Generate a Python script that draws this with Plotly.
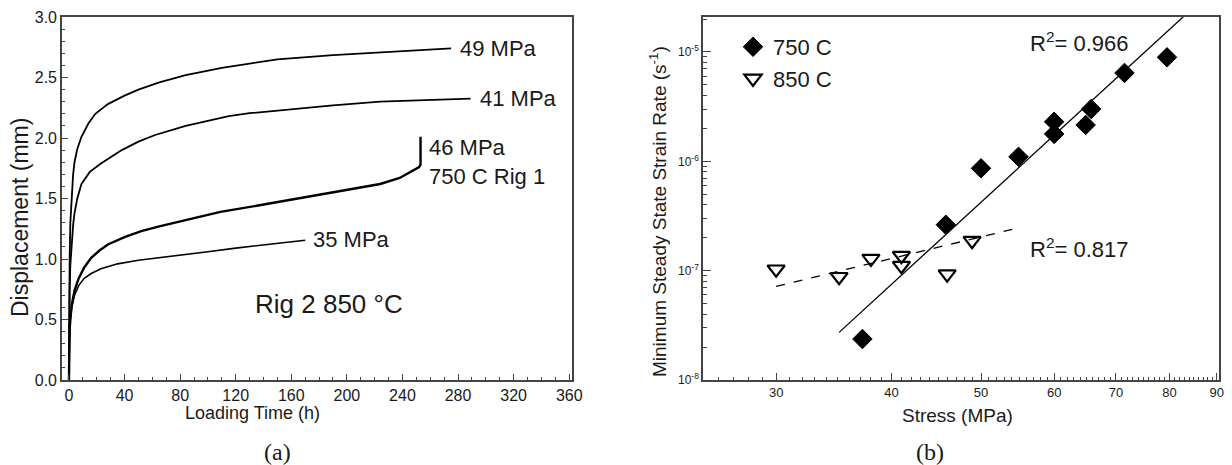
import numpy as np
import plotly.graph_objects as go

# ---------------- (a) creep curves: loading time (h) vs displacement (mm) ----------------
t_49 = [0, 0.2, 0.5, 1, 2, 3, 4, 6, 9, 14, 19, 28, 40, 50, 65, 84, 110, 150, 190, 225, 275]
d_49 = [0, 0.60, 1.00, 1.30, 1.55, 1.70, 1.80, 1.91, 2.01, 2.12, 2.20, 2.28, 2.35, 2.40, 2.46, 2.52, 2.58, 2.65, 2.685, 2.71, 2.74]

t_41 = [0, 0.2, 0.5, 1, 2, 3, 4, 6, 9, 15, 23, 38, 50, 62, 84, 115, 130, 152, 190, 224, 260, 289]
d_41 = [0, 0.45, 0.75, 0.95, 1.15, 1.28, 1.38, 1.50, 1.62, 1.72, 1.79, 1.90, 1.97, 2.025, 2.10, 2.18, 2.205, 2.23, 2.27, 2.30, 2.315, 2.325]

t_46 = [0, 0.2, 0.5, 1, 2, 4, 7, 11, 16, 22, 28, 40, 52, 65, 83, 109, 135, 164, 190, 210, 224, 238, 248, 252, 253, 253]
d_46 = [0, 0.30, 0.42, 0.50, 0.62, 0.74, 0.84, 0.93, 1.01, 1.07, 1.12, 1.18, 1.23, 1.27, 1.32, 1.39, 1.44, 1.50, 1.55, 1.59, 1.62, 1.67, 1.73, 1.76, 1.78, 2.01]

t_35 = [0, 0.2, 0.5, 1, 2, 4, 7, 11, 16, 23, 35, 50, 65, 80, 100, 120, 145, 170]
d_35 = [0, 0.30, 0.42, 0.50, 0.60, 0.70, 0.78, 0.84, 0.88, 0.92, 0.96, 0.99, 1.01, 1.03, 1.06, 1.09, 1.12, 1.155]

curve_labels = ["49 MPa", "41 MPa", "46 MPa<br>750 C Rig 1", "35 MPa"]
label_at = [(280, 2.74), (294, 2.33), (258, 1.80), (174, 1.16)]

# ---------------- (b) minimum steady state strain rate vs stress ----------------
stress_750 = [37.2, 45.8, 50.0, 54.9, 60.0, 60.0, 64.9, 65.8, 71.5, 79.5]
rate_750 = [2.37e-8, 2.63e-7, 8.63e-7, 1.10e-6, 2.30e-6, 1.78e-6, 2.15e-6, 3.01e-6, 6.43e-6, 8.94e-6]

stress_850 = [30.0, 35.1, 38.0, 41.0, 41.0, 45.95, 48.9]
rate_850 = [1.03e-7, 8.8e-8, 1.29e-7, 1.37e-7, 1.11e-7, 9.3e-8, 1.88e-7]

# power-law fits  rate = 10**a * stress**n
fit_750 = dict(n=7.745, a=-19.533, smin=35.1, smax=85.0, r2="0.966")
fit_850 = dict(n=2.04, a=-10.157, smin=30.0, smax=54.7, r2="0.817")

FONT = "Liberation Sans, Arial, sans-serif"
INK = "#1a1a1a"
FRAME = "#444444"
W, H = 1232, 465

fig = go.Figure()

for t, d, w in [(t_49, d_49, 1.8), (t_41, d_41, 1.8), (t_46, d_46, 2.4), (t_35, d_35, 1.6)]:
    fig.add_trace(go.Scatter(x=t, y=d, mode="lines", xaxis="x", yaxis="y",
                             line=dict(color="black", width=w),
                             showlegend=False, hoverinfo="skip"))

for lab, (lx, ly) in zip(curve_labels, label_at):
    fig.add_annotation(x=lx, y=ly, xref="x", yref="y", text=lab, showarrow=False,
                       xanchor="left", yanchor="middle", align="left",
                       font=dict(family=FONT, size=22, color=INK))

fig.add_annotation(x=187, y=0.63, xref="x", yref="y", text="Rig 2 850 °C", showarrow=False,
                   xanchor="center", yanchor="middle", font=dict(family=FONT, size=26, color=INK))

# fits
for f, dash in [(fit_750, "solid"), (fit_850, "dash")]:
    s = np.linspace(f["smin"], f["smax"], 60)
    r = 10 ** (f["a"] + f["n"] * np.log10(s))
    fig.add_trace(go.Scatter(x=s, y=r, mode="lines", xaxis="x2", yaxis="y2",
                             line=dict(color="black", width=1.3, dash=dash),
                             showlegend=False, hoverinfo="skip"))

fig.add_trace(go.Scatter(x=stress_750, y=rate_750, mode="markers", name="750 C", xaxis="x2", yaxis="y2",
                         marker=dict(symbol="diamond", size=15, color="black",
                                     line=dict(color="black", width=1))))
fig.add_trace(go.Scatter(x=stress_850, y=rate_850, mode="markers", name="850 C", xaxis="x2", yaxis="y2",
                         marker=dict(symbol="triangle-down-open", size=15, color="black",
                                     line=dict(color="black", width=2.2))))


def note(x, y, text, size, angle=0, family=FONT, xanchor="center"):
    fig.add_annotation(x=x / W, y=1 - y / H, xref="paper", yref="paper", text=text, textangle=angle,
                       showarrow=False, xanchor=xanchor, yanchor="middle",
                       font=dict(family=family, size=size, color=INK))


note(1028, 42, "R<sup>2</sup>= " + fit_750["r2"], 22, xanchor="left")
note(1028, 248, "R<sup>2</sup>= " + fit_850["r2"], 22, xanchor="left")

# axis titles and panel labels
note(20, 218, "Displacement (mm)", 23, angle=-90)
note(252, 413, "Loading Time (h)", 18)
note(658, 212, "Minimum Steady State Strain Rate (s<sup>-1</sup>)", 19, angle=-90)
note(957, 415, "Stress (MPa)", 19)
SERIF = "Liberation Serif, Times New Roman, serif"
note(277, 452, "(a)", 24, family=SERIF)
note(930, 452, "(b)", 24, family=SERIF)

ydom = [1 - 380 / H, 1 - 17 / H]
xd1 = [62 / W, 572 / W]
xd2 = [703 / W, 1219 / W]

common = dict(showline=True, linecolor=FRAME, linewidth=1.6, mirror=True, ticks="inside",
              tickcolor=FRAME, showgrid=False, zeroline=False, automargin=False)

decades = [1e-8, 1e-7, 1e-6, 1e-5]
minor_y = [m * d for d in decades for m in range(2, 10)]
major_x2 = [30, 40, 50, 60, 70, 80, 90]
minor_x2 = [v for v in range(25, 91) if v not in major_x2]

fig.update_layout(
    width=W, height=H, margin=dict(l=0, r=0, t=0, b=0),
    paper_bgcolor="white", plot_bgcolor="white",
    font=dict(family=FONT, color=INK),
    xaxis=dict(domain=xd1, range=[-5, 362], tickmode="linear", tick0=0, dtick=40, ticklen=6,
               tickfont=dict(size=16), minor=dict(dtick=10, ticklen=3, ticks="inside", tickcolor=FRAME),
               anchor="y", **common),
    yaxis=dict(domain=ydom, range=[0, 3.0], tickmode="linear", tick0=0, dtick=0.5, tickformat=".1f",
               ticklen=6, tickfont=dict(size=16),
               minor=dict(dtick=0.1, ticklen=3, ticks="inside", tickcolor=FRAME), anchor="x", **common),
    xaxis2=dict(domain=xd2, type="log", range=[np.log10(25), np.log10(90.5)], tickmode="array",
                tickvals=major_x2, ticktext=[str(v) for v in major_x2], ticklen=7, tickfont=dict(size=13),
                minor=dict(tickmode="array", tickvals=minor_x2, ticklen=3, ticks="inside", tickcolor=FRAME),
                anchor="y2", **common),
    yaxis2=dict(domain=ydom, type="log", range=[-8, -4.68], tickmode="array", tickvals=decades,
                ticktext=["10<sup>-8</sup>", "10<sup>-7</sup>", "10<sup>-6</sup>", "10<sup>-5</sup>"],
                ticklen=8, tickfont=dict(size=12),
                minor=dict(tickmode="array", tickvals=minor_y, ticklen=4, ticks="inside", tickcolor=FRAME),
                anchor="x2", **common),
    legend=dict(x=733 / W, y=1 - 26 / H, xanchor="left", yanchor="top", bgcolor="rgba(0,0,0,0)",
                font=dict(family=FONT, size=22, color=INK), tracegroupgap=0, itemsizing="trace"),
)

fig.write_html("out.html")
